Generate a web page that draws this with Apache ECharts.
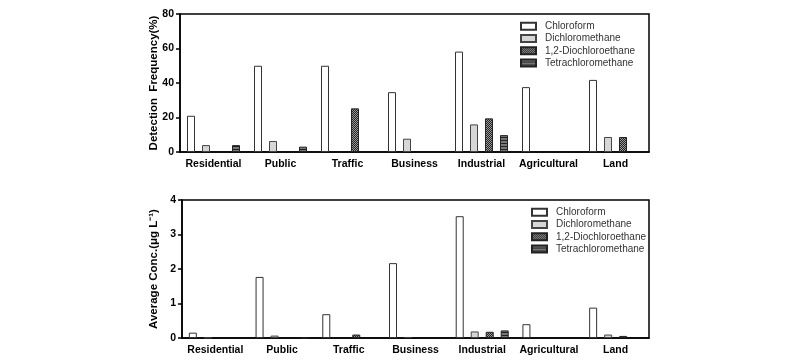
<!DOCTYPE html>
<html><head><meta charset="utf-8">
<script src="https://cdn.jsdelivr.net/npm/echarts@6/dist/echarts.min.js"></script>
<style>html,body{margin:0;padding:0;background:#fff}#c{width:800px;height:361px}</style>
</head><body><div id="c"></div>
<script>
const categories = ['Residential','Public','Traffic','Business','Industrial','Agricultural','Land'];
const seriesNames = ['Chloroform','Dichloromethane','1,2-Diochloroethane','Tetrachloromethane'];
// Detection frequency (%)
const freqChloroform = [21, 50, 50, 34.7, 58.2, 37.6, 41.8];
const freqDichloromethane = [4.0, 6.4, 0, 7.7, 16.0, 0, 8.7];
const freqDichloroethane = [0, 0, 25.3, 0, 19.5, 0, 8.7];
const freqTetrachloromethane = [4.0, 3.1, 0, 0, 9.8, 0, 0];
// Average concentration (ug/L)
const concChloroform = [0.155, 1.77, 0.69, 2.17, 3.53, 0.40, 0.88];
const concDichloromethane = [0.01, 0.07, 0, 0.03, 0.19, 0, 0.10];
const concDichloroethane = [0, 0, 0.10, 0, 0.18, 0, 0.06];
const concTetrachloromethane = [0, 0.01, 0, 0, 0.22, 0, 0];
const freqTicks = [0, 20, 40, 60, 80];
const concTicks = [0, 1, 2, 3, 4];

function makePattern(w, h, draw) {
  const cv = document.createElement('canvas');
  cv.width = w; cv.height = h;
  const ctx = cv.getContext('2d');
  draw(ctx);
  return { image: cv, repeat: 'repeat' };
}
const checker = makePattern(2, 2, ctx => {
  ctx.fillStyle = '#222'; ctx.fillRect(0,0,2,2);
  ctx.fillStyle = '#999'; ctx.fillRect(0,0,1,1); ctx.fillRect(1,1,1,1);
});
const stripes = makePattern(3, 3, ctx => {
  ctx.fillStyle = '#777'; ctx.fillRect(0,0,3,3);
  ctx.fillStyle = '#222'; ctx.fillRect(0,2,3,1);
});
const styles = [
  { color: '#ffffff', borderColor: '#333', borderWidth: 1 },
  { color: '#d6d6d6', borderColor: '#444', borderWidth: 1 },
  { color: checker, borderColor: '#222', borderWidth: 1 },
  { color: stripes, borderColor: '#222', borderWidth: 1 }
];
const FONT = 'Liberation Sans, Arial, sans-serif';
const freqData = [freqChloroform, freqDichloromethane, freqDichloroethane, freqTetrachloromethane];
const concData = [concChloroform, concDichloromethane, concDichloroethane, concTetrachloromethane];

function xAxis(gi) {
  return {
    type: 'category', gridIndex: gi, data: categories,
    axisLine: { lineStyle: { color: '#000', width: 1.5 } },
    axisTick: { alignWithLabel: true, length: 4, lineStyle: { color: '#000', width: 1.5 } },
    axisLabel: { interval: 0, color: '#000', fontWeight: 'bold', fontSize: 10.5, fontFamily: FONT, margin: 7 }
  };
}
function yAxis(gi, ticks, name, gap) {
  return {
    type: 'value', gridIndex: gi, min: ticks[0], max: ticks[ticks.length-1],
    interval: ticks[1]-ticks[0],
    name: name, nameLocation: 'middle', nameGap: gap, nameRotate: 90, nameMoveOverlap: false,
    nameTextStyle: { color: '#000', fontWeight: 'bold', fontSize: 11.5, fontFamily: FONT },
    axisLine: { show: true, lineStyle: { color: '#000', width: 1.5 } },
    axisTick: { show: true, length: 4, lineStyle: { color: '#000', width: 1.5 } },
    axisLabel: { color: '#000', fontWeight: 'bold', fontSize: 10.5, fontFamily: FONT, margin: 6 },
    splitLine: { show: false }
  };
}
function legend(left, top) {
  return {
    orient: 'vertical', left: left, top: top, itemWidth: 15, itemHeight: 7, itemGap: 0,
    icon: 'rect', data: seriesNames, selectedMode: false,
    textStyle: { color: '#333', fontSize: 10, fontFamily: FONT, lineHeight: 12.3, padding: [0,0,0,4] }
  };
}
const series = [];
[freqData, concData].forEach((set, gi) => {
  set.forEach((vals, i) => {
    series.push({
      name: seriesNames[i], type: 'bar', xAxisIndex: gi, yAxisIndex: gi,
      data: vals.map(v => v === 0 ? '-' : v), barWidth: 8, barGap: '87.5%', itemStyle: styles[i], silent: true
    });
  });
});
const chart = echarts.init(document.getElementById('c'), null, { renderer: 'canvas' });
chart.setOption({
  animation: false,
  backgroundColor: '#fff',
  grid: [
    { left: 180, right: 151, top: 14, height: 138, show: true, borderColor: '#000', borderWidth: 1.5 },
    { left: 182, right: 151, top: 200, height: 138, show: true, borderColor: '#000', borderWidth: 1.5 }
  ],
  legend: [legend(515, 15), legend(526, 201)],
  xAxis: [xAxis(0), xAxis(1)],
  yAxis: [yAxis(0, freqTicks, 'Detection  Frequency(%)', 20), yAxis(1, concTicks, 'Average Conc.(μg L⁻¹)', 22)],
  series: series
});
</script></body></html>
